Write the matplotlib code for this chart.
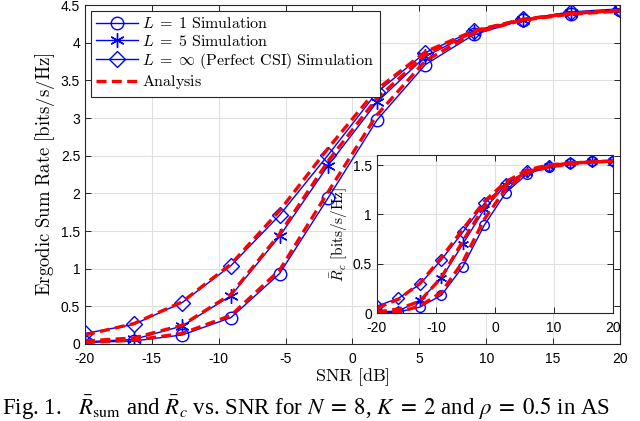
import matplotlib
matplotlib.use("Agg")
import matplotlib.pyplot as plt

plt.rcParams["font.family"] = ["Liberation Sans", "DejaVu Sans"]
plt.rcParams["mathtext.fontset"] = "cm"
plt.rcParams["axes.unicode_minus"] = False
plt.rcParams["xtick.direction"] = "in"
plt.rcParams["ytick.direction"] = "in"

# --- data ---
snr = [-20, -16.36, -12.73, -9.09, -5.45, -1.82, 1.82, 5.45, 9.09, 12.73, 16.36, 20]

sum_L1_sim = [0.02, 0.04, 0.12, 0.35, 0.935, 1.94, 2.97, 3.71, 4.11, 4.30, 4.38, 4.43]
sum_L1_ana = [0.02, 0.05, 0.14, 0.38, 0.98, 2.02, 3.04, 3.76, 4.13, 4.30, 4.38, 4.42]
sum_L5_sim = [0.03, 0.06, 0.24, 0.64, 1.43, 2.37, 3.21, 3.82, 4.14, 4.30, 4.40, 4.44]
sum_L5_ana = [0.04, 0.08, 0.25, 0.66, 1.46, 2.43, 3.26, 3.84, 4.15, 4.31, 4.39, 4.43]
sum_inf_sim = [0.14, 0.26, 0.55, 1.04, 1.71, 2.51, 3.34, 3.87, 4.16, 4.31, 4.41, 4.45]
sum_inf_ana = [0.12, 0.27, 0.56, 1.06, 1.77, 2.60, 3.38, 3.88, 4.16, 4.31, 4.39, 4.43]

rc_L1_sim = [0.0, 0.01, 0.06, 0.18, 0.47, 0.89, 1.22, 1.41, 1.48, 1.52, 1.54, 1.545]
rc_L1_ana = [0.0, 0.01, 0.07, 0.21, 0.52, 0.95, 1.26, 1.42, 1.48, 1.51, 1.53, 1.54]
rc_L5_sim = [0.01, 0.02, 0.13, 0.35, 0.70, 1.05, 1.30, 1.43, 1.49, 1.52, 1.54, 1.545]
rc_L5_ana = [0.01, 0.04, 0.12, 0.36, 0.73, 1.08, 1.30, 1.43, 1.49, 1.52, 1.53, 1.54]
rc_inf_sim = [0.07, 0.15, 0.29, 0.54, 0.82, 1.11, 1.31, 1.44, 1.49, 1.52, 1.54, 1.545]
rc_inf_ana = [0.05, 0.14, 0.30, 0.56, 0.85, 1.13, 1.33, 1.45, 1.50, 1.52, 1.53, 1.54]

labels = [r"$L\;=\;1\ \mathrm{Simulation}$",
          r"$L\;=\;5\ \mathrm{Simulation}$",
          r"$L\;=\;\infty\ \mathrm{(Perfect\ CSI)\ Simulation}$",
          r"$\mathrm{Analysis}$"]

BLUE = (0, 0, 1); RED = (1, 0, 0)
EDGE = (0.15, 0.15, 0.15)
ASTERISK = (6, 2, 0)


def style_axes(ax):
    ax.grid(True, color=(0.88, 0.88, 0.88), lw=0.8)
    ax.set_axisbelow(True)
    ax.tick_params(top=True, right=True, labelsize=10, length=4, color=EDGE, width=0.7)
    ax.tick_params(axis="x", pad=6)
    for s in ax.spines.values():
        s.set_color(EDGE); s.set_linewidth(0.8)


def draw(ax, ms, sims, anas):
    markers = ["o", ASTERISK, "D"]
    sizes = [ms, ms * 1.15, ms * 0.85]
    hs = []
    for y, m, s in zip(sims, markers, sizes):
        h, = ax.plot(snr, y, color=BLUE, lw=1.0, marker=m, ms=s,
                     mfc="none", mec=BLUE, mew=1.0)
        hs.append(h)
    for y in anas:
        h, = ax.plot(snr, y, color=RED, lw=2.4, ls=(0, (3, 1.6)))
    hs.append(h)
    return hs


fig = plt.figure(figsize=(6.4, 4.21), dpi=100)
ax = fig.add_axes([0.1328, 0.1829, 0.8359, 0.805])
style_axes(ax)
hs = draw(ax, 9, [sum_L1_sim, sum_L5_sim, sum_inf_sim], [sum_L1_ana, sum_L5_ana, sum_inf_ana])
ax.set_xlim(-20, 20); ax.set_ylim(0, 4.5)
ax.set_xticks([-20, -15, -10, -5, 0, 5, 10, 15, 20])
ax.set_yticks([0, 0.5, 1, 1.5, 2, 2.5, 3, 3.5, 4, 4.5])
ax.set_yticklabels(["0", "0.5", "1", "1.5", "2", "2.5", "3", "3.5", "4", "4.5"])
ax.set_xlabel(r"$\mathrm{SNR\ [dB]}$", fontsize=13, labelpad=0)
ax.set_ylabel(r"$\mathrm{Ergodic\ Sum\ Rate\ [bits/s/Hz]}$", fontsize=13.5, labelpad=3)
leg = ax.legend(hs, labels, loc="upper left", fontsize=11.5, handlelength=2.6,
                borderaxespad=0.35, labelspacing=0.15, handletextpad=0.3,
                borderpad=0.35, fancybox=False, framealpha=1)
leg.get_frame().set_edgecolor(EDGE); leg.get_frame().set_linewidth(0.8)

# inset
ins = fig.add_axes([0.589, 0.2565, 0.369, 0.375])
style_axes(ins)
draw(ins, 7, [rc_L1_sim, rc_L5_sim, rc_inf_sim], [rc_L1_ana, rc_L5_ana, rc_inf_ana])
ins.set_xlim(-20, 20); ins.set_ylim(0, 1.6)
ins.set_xticks([-20, -10, 0, 10, 20])
ins.set_yticks([0, 0.5, 1, 1.5])
ins.set_yticklabels(["0", "0.5", "1", "1.5"])
ins.set_ylabel(r"$\bar{R}_c\ \mathrm{[bits/s/Hz]}$", fontsize=11, labelpad=2)

fig.text(0.003, 0.014,
         r"Fig. 1.   $\bar{R}_{\rm sum}$ and $\bar{R}_c$ vs. SNR for $N\;=\;8$, $K\;=\;2$ and $\rho\;=\;0.5$ in AS",
         fontsize=16.5, family="Liberation Serif", math_fontfamily="stix", va="baseline")

fig.savefig("out.png", dpi=100)
